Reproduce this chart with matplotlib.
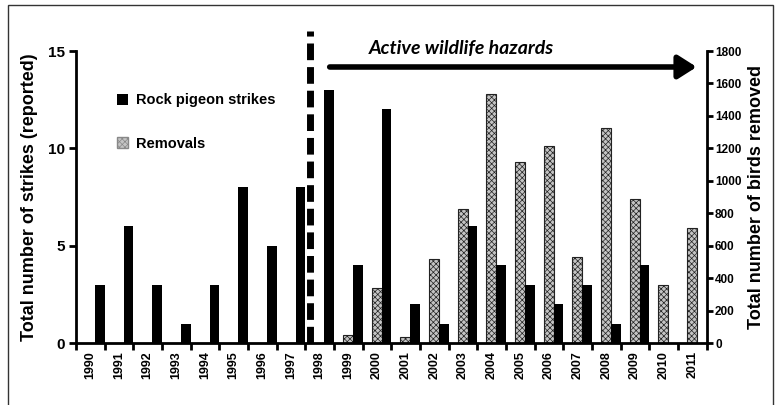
import matplotlib.pyplot as plt
from matplotlib.patches import Patch, Rectangle
import numpy as np

years = [str(y) for y in range(1990, 2012)]
strikes = [3, 6, 3, 1, 3, 8, 5, 8, 13, 4, 12, 2, 1, 6, 4, 3, 2, 3, 1, 4, 0, 0]
removals = [0, 0, 0, 0, 0, 0, 0, 0, 0, 50, 340, 40, 520, 825, 1535, 1115,
            1215, 530, 1325, 890, 360, 710]

plt.rcParams['font.family'] = ['Liberation Sans', 'DejaVu Sans']
plt.rcParams['font.weight'] = 'bold'
plt.rcParams['hatch.color'] = '#8a8a8a'
plt.rcParams['hatch.linewidth'] = 0.5

fig = plt.figure(figsize=(7.8, 4.05), dpi=100)
ax = fig.add_axes([0.0974, 0.153, 0.8086, 0.721])
ax2 = ax.twinx()

x = np.arange(len(years))
w = 0.34
ax.bar(x + 0.33, strikes, width=w, color='black', zorder=3)
ax2.bar(x - 0.015, removals, width=w + 0.01, color='#c4c4c4', edgecolor='#222222',
        linewidth=0.8, hatch='xxxxxx', zorder=2)

ax.set_xlim(-0.5, len(years) - 0.5)
ax.set_ylim(0, 15)
ax2.set_ylim(0, 1800)

# ticks at group boundaries, labels centred
ax.set_xticks(np.arange(-0.5, len(years)))
ax.set_xticklabels([])
ax.set_xticks(x, minor=True)
ax.set_xticklabels(years, minor=True, rotation=90, fontsize=9, fontweight='bold')
ax.tick_params(axis='x', which='major', length=5, width=2, direction='out')
ax.tick_params(axis='x', which='minor', length=0, pad=6)

ax.set_yticks([0, 5, 10, 15])
ax.tick_params(axis='y', length=5, width=2, labelsize=11, pad=3)
ax2.set_yticks(range(0, 1801, 200))
ax2.tick_params(axis='y', length=4, width=2, labelsize=8.5, pad=2)
for lab in ax.get_yticklabels() + ax2.get_yticklabels():
    lab.set_fontweight('bold')

for a in (ax, ax2):
    a.spines['top'].set_visible(False)
    for s in ('left', 'right', 'bottom'):
        a.spines[s].set_linewidth(2)
ax.spines['right'].set_visible(False)
ax2.spines['left'].set_visible(False)
ax2.spines['bottom'].set_visible(False)

ax.set_ylabel('Total number of strikes (reported)', fontsize=13, fontweight='bold', labelpad=7)
ax2.set_ylabel('Total number of birds removed', fontsize=13, fontweight='bold', labelpad=5)

# start of active wildlife hazard programme
ax.plot([7.65, 7.65], [0, 16.05], color='black', lw=5, ls=(0, (2.4, 1.0)),
        clip_on=False, zorder=5)
ax.annotate('', xy=(21.15, 14.18), xytext=(8.35, 14.18),
            arrowprops=dict(arrowstyle='-|>,head_length=1.1,head_width=0.7',
                            lw=4, color='black', shrinkA=0, shrinkB=0),
            annotation_clip=False, zorder=6)
ax.text(12.95, 15.15, 'Active wildlife hazards', fontsize=14, fontstyle='italic',
        fontweight='bold', family=['Lato', 'DejaVu Sans'], ha='center', va='center')

handles = [Patch(facecolor='black', label='Rock pigeon strikes'),
           Patch(facecolor='#c4c4c4', edgecolor='#888888', hatch='xxxxxx', label='Removals')]
leg = ax.legend(handles=handles, loc='upper left', bbox_to_anchor=(0.045, 0.9),
                frameon=False, fontsize=10.5, handlelength=0.75, handleheight=0.75,
                handletextpad=0.5, labelspacing=2.0)
for t in leg.get_texts():
    t.set_fontweight('bold')
ax.set_zorder(ax2.get_zorder() + 1)
ax.patch.set_visible(False)

fig.patches.append(Rectangle((8 / 780, -0.05), 765 / 780, 1.05 - 5 / 405,
                             transform=fig.transFigure, fill=False,
                             edgecolor='#333333', lw=1))

fig.savefig('out.png', dpi=100)
